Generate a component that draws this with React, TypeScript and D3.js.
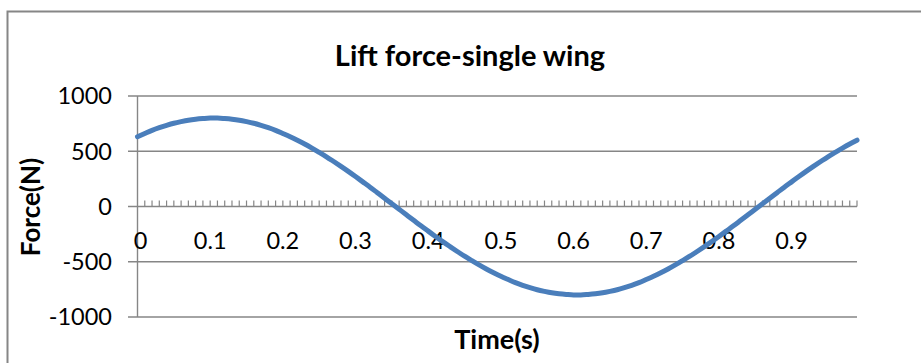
import React from "react";
import * as d3 from "d3";

// Time samples (s), one category per 0.01 s
const times: number[] = Array.from({ length: 100 }, (_, i) => +(i / 100).toFixed(2));

// Lift force on a single wing (N), one value per time sample
const force: number[] = [
  632, 661, 689, 713, 734, 753, 768, 781, 790, 796,
  800, 800, 796, 790, 781, 768, 753, 734, 713, 689,
  661, 632, 600, 566, 529, 490, 450, 407, 363, 318,
  271, 223, 175, 125, 75, 25, -25, -75, -125, -175,
  -223, -271, -318, -363, -407, -450, -490, -529, -566, -600,
  -632, -661, -689, -713, -734, -753, -768, -781, -790, -796,
  -800, -800, -796, -790, -781, -768, -753, -734, -713, -689,
  -661, -632, -600, -566, -529, -490, -450, -407, -363, -318,
  -271, -223, -175, -125, -75, -25, 25, 75, 125, 175,
  223, 271, 318, 363, 407, 450, 490, 529, 566, 600,
];

const yTicks: number[] = [1000, 500, 0, -500, -1000];
const xTickLabels: string[] = ["0", "0.1", "0.2", "0.3", "0.4", "0.5", "0.6", "0.7", "0.8", "0.9"];

const title = "Lift force-single wing";
const xTitle = "Time(s)";
const yTitle = "Force(N)";

const W = 921;
const H = 363;
const plot = { left: 137.5, right: 857, top: 96, bottom: 317 };
const FONT = "Lato, 'Open Sans', sans-serif";
const GRID = "#868686";
const LINE = "#4A7EBB";

export default function App() {
  const x = d3
    .scaleLinear()
    .domain([0, times.length - 1])
    .range([plot.left, plot.right]);
  const y = d3.scaleLinear().domain([-1000, 1000]).range([plot.bottom, plot.top]);

  const line = d3
    .line<number>()
    .x((_, i) => x(i))
    .y((d) => y(d))
    .curve(d3.curveMonotoneX);

  const y0 = y(0);

  return (
    <svg
      width={W}
      height={H}
      style={{ position: "absolute", left: 0, top: 0, background: "#fff" }}
      fontFamily={FONT}
    >
      {/* chart frame */}
      <rect x={7.5} y={11.5} width={W + 10} height={H + 10} fill="none" stroke={GRID} strokeWidth={2} />

      <text x={470} y={66} textAnchor="middle" fontSize={29} fontWeight="bold" fill="#000">
        {title}
      </text>

      {/* horizontal gridlines with outside major ticks */}
      {yTicks.map((t) => (
        <g key={t}>
          <line x1={128} x2={plot.right} y1={y(t)} y2={y(t)} stroke={GRID} strokeWidth={1.4} />
          <text x={112} y={y(t)} dy="0.36em" textAnchor="end" fontSize={23.5} fill="#000">
            {t}
          </text>
        </g>
      ))}

      {/* vertical axis */}
      <line x1={plot.left} x2={plot.left} y1={plot.top} y2={plot.bottom} stroke={GRID} strokeWidth={1.4} />

      {/* category ticks along the zero line */}
      {times.map((_, i) =>
        i === 0 ? null : (
          <line key={i} x1={x(i)} x2={x(i)} y1={y0} y2={y0 - 6} stroke={GRID} strokeWidth={1.2} />
        )
      )}

      {xTickLabels.map((lab, k) => (
        <text key={lab} x={x(k * 10) + (k === 0 ? 3 : 0)} y={249} textAnchor="middle" fontSize={23.5} fill="#000">
          {lab}
        </text>
      ))}

      <path
        d={line(force) ?? ""}
        fill="none"
        stroke={LINE}
        strokeWidth={5}
        strokeLinecap="round"
        strokeLinejoin="round"
      />

      <text x={497} y={349} textAnchor="middle" fontSize={27} fontWeight="bold" fill="#000">
        {xTitle}
      </text>
      <text
        transform={`translate(40, 207) rotate(-90)`}
        textAnchor="middle"
        fontSize={26}
        fontWeight="bold"
        fill="#000"
      >
        {yTitle}
      </text>
    </svg>
  );
}
